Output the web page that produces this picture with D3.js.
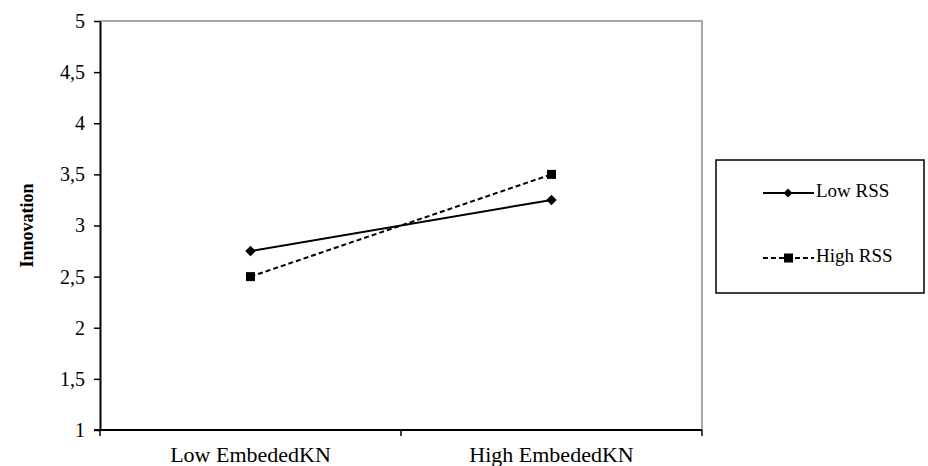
<!DOCTYPE html>
<html>
<head>
<meta charset="utf-8">
<script src="https://cdn.jsdelivr.net/npm/d3@7"></script>
<style>
  html, body { margin: 0; padding: 0; background: #fff; }
  svg { display: block; }
  svg text { font-family: "Liberation Serif", "DejaVu Serif", serif; }
</style>
</head>
<body>
<script>
const categories = ["Low EmbededKN", "High EmbededKN"];
const seriesNames = ["Low RSS", "High RSS"];
const lowRSS = [2.75, 3.25];
const highRSS = [2.5, 3.5];
const yTicks = [1, 1.5, 2, 2.5, 3, 3.5, 4, 4.5, 5];
const yTitle = "Innovation";

(function () {
const FONT = "Liberation Serif, DejaVu Serif, serif";
const W = 928, H = 466;
const svg = d3.select("body").append("svg").attr("width", W).attr("height", H);

const pL = 100, pR = 702, pT = 21, pB = 430;

const x = d3.scaleBand().domain(categories).range([pL, pR]);
const y = d3.scaleLinear().domain([1, 5]).range([pB, pT]);

// plot area border (top & right gray)
svg.append("path")
  .attr("d", `M${pL},${pT}H${pR}V${pB}`)
  .attr("fill", "none").attr("stroke", "#8c8c8c").attr("stroke-width", 1.5);

// Y axis
const yAxis = d3.axisLeft(y).tickValues(yTicks)
  .tickFormat(d => String(d).replace(".", ","))
  .tickSizeInner(6).tickSizeOuter(0).tickPadding(9);
const gy = svg.append("g").attr("transform", `translate(${pL},0)`).call(yAxis)
  .attr("font-family", FONT).attr("font-size", 20);
gy.select(".domain").attr("stroke", "#000").attr("stroke-width", 2);
gy.selectAll(".tick line").attr("stroke", "#000").attr("stroke-width", 1.5);
gy.selectAll(".tick text").attr("fill", "#000");

// X axis with ticks at band boundaries
const gx = svg.append("g").attr("transform", `translate(0,${pB})`)
  .attr("font-family", FONT);
gx.append("line").attr("x1", pL - 6).attr("x2", pR).attr("y1", 0).attr("y2", 0)
  .attr("stroke", "#000").attr("stroke-width", 2);
const bounds = [pL, ...categories.map(c => x(c) + x.bandwidth())];
gx.selectAll("line.tk").data(bounds).join("line").attr("class", "tk")
  .attr("x1", d => d).attr("x2", d => d).attr("y1", 0).attr("y2", 6)
  .attr("stroke", "#000").attr("stroke-width", 1.5);
gx.selectAll("text").data(categories).join("text")
  .attr("x", d => x(d) + x.bandwidth() / 2).attr("y", 32)
  .attr("text-anchor", "middle").attr("font-size", 22).attr("fill", "#000")
  .text(d => d);

// Y title
svg.append("text")
  .attr("transform", `translate(29,${(pT + pB) / 2}) rotate(-90)`)
  .attr("text-anchor", "middle").attr("font-size", 18).attr("font-weight", "bold")
  .attr("font-family", FONT)
  .attr("dominant-baseline", "middle")
  .text(yTitle);

const cx = c => x(c) + x.bandwidth() / 2;
const line = d3.line().x(d => cx(d.c)).y(d => y(d.v));

const s1 = categories.map((c, i) => ({ c, v: lowRSS[i] }));
const s2 = categories.map((c, i) => ({ c, v: highRSS[i] }));

svg.append("path").datum(s1).attr("d", line).attr("fill", "none")
  .attr("stroke", "#000").attr("stroke-width", 2);
svg.append("path").datum(s2).attr("d", line).attr("fill", "none")
  .attr("stroke", "#000").attr("stroke-width", 2).attr("stroke-dasharray", "5,3");

svg.selectAll("path.dm").data(s1).join("path").attr("class", "dm")
  .attr("d", d3.symbol().type(d3.symbolSquare).size(55))
  .attr("transform", d => `translate(${cx(d.c)},${y(d.v)}) rotate(45)`)
  .attr("fill", "#000");
svg.selectAll("rect.sq").data(s2).join("rect").attr("class", "sq")
  .attr("x", d => cx(d.c) - 4.5).attr("y", d => y(d.v) - 4.5)
  .attr("width", 9).attr("height", 9).attr("fill", "#000");

// Legend
const lg = svg.append("g").attr("font-family", FONT);
lg.append("rect").attr("x", 716).attr("y", 160).attr("width", 208).attr("height", 133)
  .attr("fill", "#fff").attr("stroke", "#000").attr("stroke-width", 1.5);
const items = [
  { name: seriesNames[0], y: 193, dash: null, marker: "diamond" },
  { name: seriesNames[1], y: 258, dash: "5,3", marker: "square" }
];
items.forEach(it => {
  lg.append("line").attr("x1", 763).attr("x2", 814).attr("y1", it.y).attr("y2", it.y)
    .attr("stroke", "#000").attr("stroke-width", 1.8)
    .attr("stroke-dasharray", it.dash);
  if (it.marker === "diamond") {
    lg.append("path").attr("d", d3.symbol().type(d3.symbolSquare).size(40))
      .attr("transform", `translate(788,${it.y}) rotate(45)`).attr("fill", "#000");
  } else {
    lg.append("rect").attr("x", 784).attr("y", it.y - 4.5).attr("width", 9).attr("height", 9)
      .attr("fill", "#000");
  }
  lg.append("text").attr("x", 816).attr("y", it.y).attr("dominant-baseline", "middle")
    .attr("font-size", 19).text(it.name);
});
})();
</script>
</body>
</html>
